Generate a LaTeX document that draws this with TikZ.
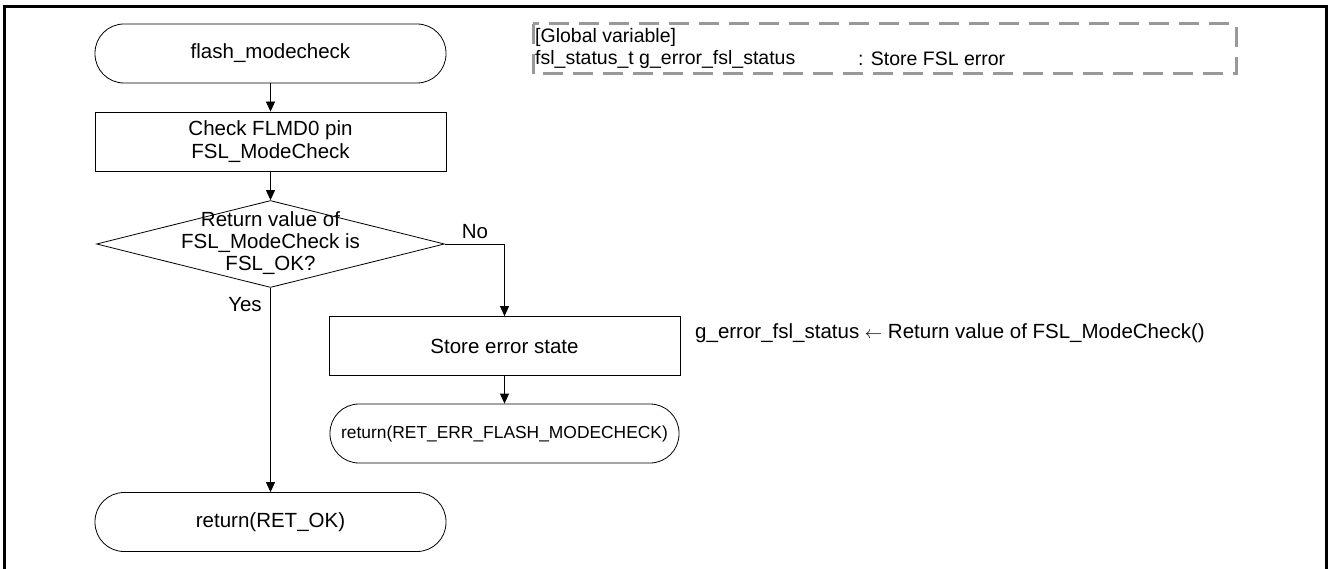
\documentclass[tikz,border=0pt]{standalone}
\usepackage{fontspec}
\setmainfont{Liberation Sans}
\usetikzlibrary{shapes.geometric,arrows.meta}

\tikzset{
  base/.style={draw=black, line width=0.8pt, inner sep=0pt, align=center,
    font=\fontsize{20.5}{23.5}\selectfont},
  term/.style={base, rectangle, rounded corners=29pt,
    minimum width=351pt, minimum height=59pt},
  proc/.style={base, rectangle, minimum width=351pt, minimum height=59pt},
  decision/.style={base, diamond, minimum width=348pt, minimum height=87pt},
  flow/.style={draw=black, line width=0.8pt, -{Triangle[length=10pt,width=9pt]}},
  lbl/.style={inner sep=0pt, font=\fontsize{20.5}{23.5}\selectfont},
  note/.style={inner sep=0pt, anchor=west, font=\fontsize{19.5}{22}\selectfont},
  globalbox/.style={draw=black!40, line width=3pt, dash pattern=on 20pt off 10pt}
}

\begin{document}
\begin{tikzpicture}[x=1pt, y=-1pt]
  \useasboundingbox (0,0) rectangle (1328,569);

  % page frame, open at the bottom
  \draw[line width=3pt] (4.5,569) -- (4.5,6.5) -- (1326.5,6.5) -- (1326.5,569);

  % global variable legend
  \draw[globalbox] (533,24) rectangle (1236,74);
  \node[note] (gvhead) at (535,37) {[Global variable]};
  \node[note] (gvdecl) at (535,59) {fsl\_status\_t g\_error\_fsl\_status};
  \node[note] (gvdesc) at (858,59) {: Store FSL error};

  % main flow
  \node[term] (start) at (270.5,53.5) {flash\_modecheck};
  \node[proc] (check) at (270.5,141.5) {Check FLMD0 pin\\FSL\_ModeCheck};
  \node[decision] (dec) at (270.5,244) {};
  \node[lbl, align=center, font=\fontsize{20.5}{22}\selectfont] (dectext) at (270.5,243)
    {Return value of\\FSL\_ModeCheck is\\FSL\_OK?};
  \node[proc] (store) at (504.5,346) {Store error state};
  \node[term, minimum width=349pt, font=\fontsize{17.4}{20}\selectfont] (reterr) at (504.5,433.5)
    {return(RET\_ERR\_FLASH\_MODECHECK)};
  \node[term] (retok) at (270.5,522) {return(RET\_OK)};

  % labels
  \node[lbl] (no) at (475,232) {No};
  \node[lbl] (yes) at (245,305) {Yes};
  \node[lbl, anchor=west] (assign) at (695,333)
    {g\_error\_fsl\_status {\fontsize{16}{16}\selectfont$\leftarrow$} Return value of FSL\_ModeCheck()};

  % connectors
  \draw[flow] (start) -- (check);
  \draw[flow] (check) -- (dec);
  \draw[flow] (dec.east) -| (store.north);
  \draw[flow] (store) -- (reterr);
  \draw[flow] (dec.south) -- (retok.north);
\end{tikzpicture}
\end{document}
